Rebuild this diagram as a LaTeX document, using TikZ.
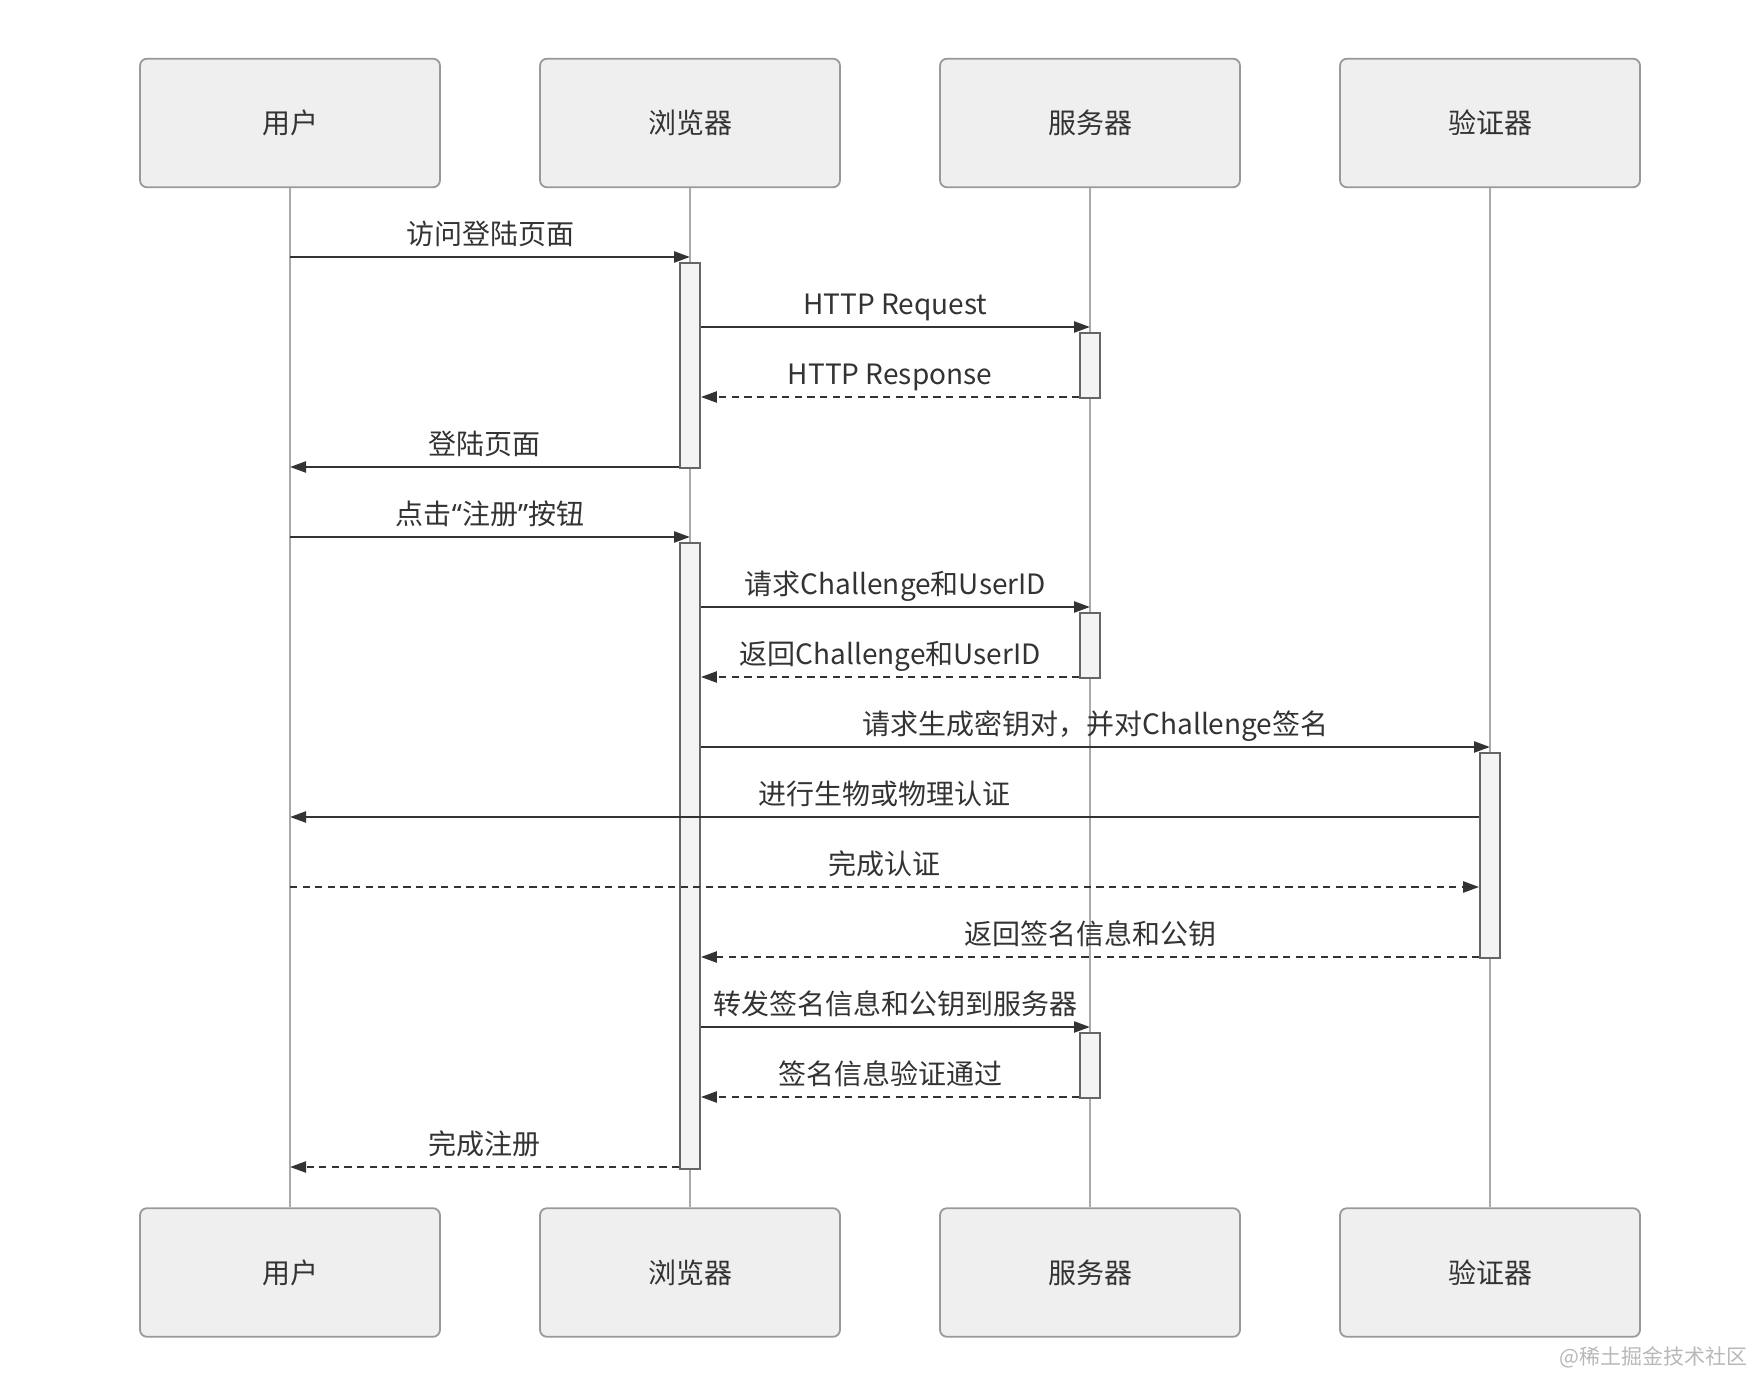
\documentclass[tikz,border=0pt]{standalone}
\usepackage{fontspec}
\newfontfamily\cjk{Noto Sans CJK SC}
\newfontfamily\latinq{Noto Sans}
\usetikzlibrary{arrows.meta}
\definecolor{boxfill}{HTML}{EFEFEF}
\definecolor{boxline}{HTML}{999999}
\definecolor{lifegray}{HTML}{AAAAAA}
\definecolor{barfill}{HTML}{F4F4F4}
\definecolor{barline}{HTML}{666666}
\definecolor{ink}{HTML}{333333}
\definecolor{wmark}{HTML}{B8B8B8}
\tikzset{
  actor/.style={draw=boxline, fill=boxfill, line width=0.9pt, rounded corners=3.5pt,
    minimum width=150pt, minimum height=64.3pt, inner sep=0pt, text=ink,
    font=\cjk\fontsize{14pt}{17pt}\selectfont},
  lifeline/.style={draw=lifegray, line width=0.75pt},
  actbar/.style={draw=barline, fill=barfill, line width=0.85pt, minimum width=10pt,
    inner sep=0pt, anchor=north},
  msg/.style={draw=ink, line width=1.15pt, -{Triangle[length=8pt,width=5.5pt]}},
  reply/.style={msg, dash pattern=on 3.6pt off 2.7pt},
  msglabel/.style={midway, anchor=base, yshift=6.4pt, inner sep=0pt, text=ink,
    font=\cjk\fontsize{14pt}{17pt}\selectfont}
}
\begin{document}
\begin{tikzpicture}[x=0.5pt,y=-0.5pt]
\useasboundingbox (0,0) rectangle (1754,1374);
% participants, top and bottom, with their lifelines
\foreach \n/\x/\t in {usr/290/用户, brw/690/浏览器, srv/1090/服务器, aut/1490/验证器}{
  \node[actor] (\n-top) at (\x,123) {\t};
  \node[actor] (\n-bot) at (\x,1272.5) {\t};
  \draw[lifeline] (\n-top) -- (\n-bot);
}
% activation bars
\node[actbar, minimum height=102.5pt] (brw-a1) at (690,262) {};
\node[actbar, minimum height=32.5pt] (srv-a1) at (1090,332) {};
\node[actbar, minimum height=313pt] (brw-a2) at (690,542) {};
\node[actbar, minimum height=32.5pt] (srv-a2) at (1090,612) {};
\node[actbar, minimum height=102.5pt] (aut-a1) at (1490,752) {};
\node[actbar, minimum height=32.5pt] (srv-a3) at (1090,1032) {};
% messages
\draw[msg] (usr-top |- 0,257) -- node[msglabel] {访问登陆页面} (brw-top |- 0,257);
\draw[msg] (brw-a1.east |- 0,327) -- node[msglabel] {HTTP Request} (srv-top |- 0,327);
\draw[reply] (srv-a1.west |- 0,397) -- node[msglabel] {HTTP Response} (brw-a1.east |- 0,397);
\draw[msg] (brw-a1.west |- 0,467) -- node[msglabel] {登陆页面} (usr-top |- 0,467);
\draw[msg] (usr-top |- 0,537) -- node[msglabel] {点击{\latinq “}注册{\latinq ”}按钮} (brw-top |- 0,537);
\draw[msg] (brw-a2.east |- 0,607) -- node[msglabel] {请求Challenge和UserID} (srv-top |- 0,607);
\draw[reply] (srv-a2.west |- 0,677) -- node[msglabel] {返回Challenge和UserID} (brw-a2.east |- 0,677);
\draw[msg] (brw-a2.east |- 0,747) -- node[msglabel] {请求生成密钥对，并对Challenge签名} (aut-top |- 0,747);
\draw[msg] (aut-a1.west |- 0,817) -- node[msglabel] {进行生物或物理认证} (usr-top |- 0,817);
\draw[reply] (usr-top |- 0,887) -- node[msglabel] {完成认证} (aut-a1.west |- 0,887);
\draw[reply] (aut-a1.west |- 0,957) -- node[msglabel] {返回签名信息和公钥} (brw-a2.east |- 0,957);
\draw[msg] (brw-a2.east |- 0,1027) -- node[msglabel] {转发签名信息和公钥到服务器} (srv-top |- 0,1027);
\draw[reply] (srv-a3.west |- 0,1097) -- node[msglabel] {签名信息验证通过} (brw-a2.east |- 0,1097);
\draw[reply] (brw-a2.west |- 0,1167) -- node[msglabel] {完成注册} (usr-top |- 0,1167);
% watermark
\node[anchor=east, inner sep=0pt, text=wmark, font=\cjk\fontsize{10.5pt}{12pt}\selectfont]
  (mark) at (1748,1357) {@稀土掘金技术社区};
\end{tikzpicture}
\end{document}
